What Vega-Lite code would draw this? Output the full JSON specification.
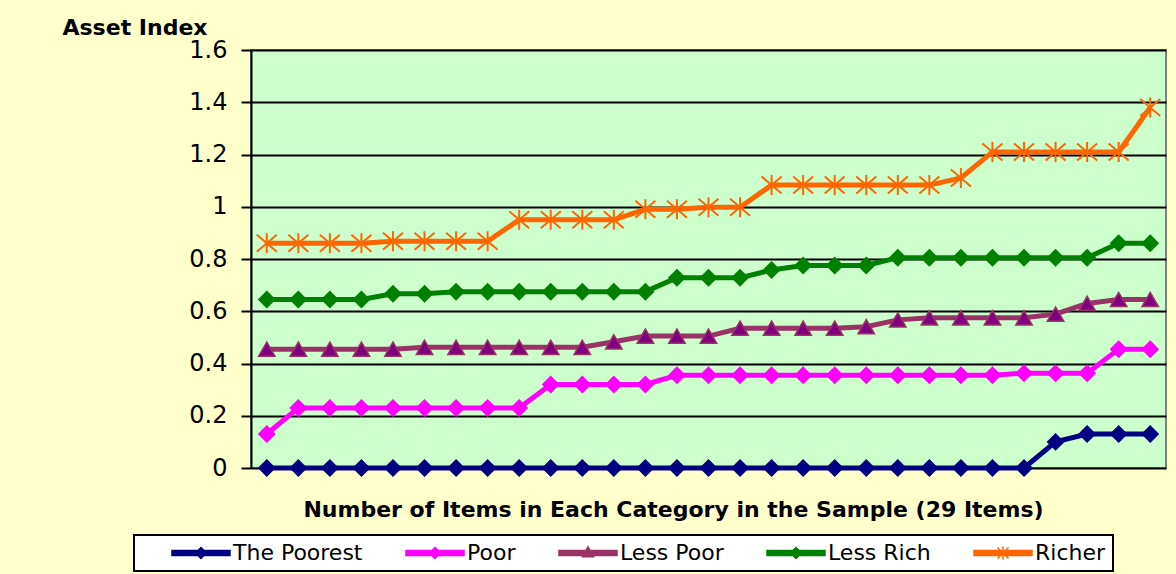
{
  "$schema": "https://vega.github.io/schema/vega-lite/v6.json",
  "width": 915,
  "height": 418,
  "autosize": {"type": "none"},
  "padding": {"left": 251, "top": 50, "right": 10, "bottom": 106},
  "background": "#FFFFCC",
  "config": {
    "font": "DejaVu Sans",
    "view": {"fill": "#CCFFCC", "stroke": "#808080", "strokeWidth": 2}
  },
  "data": {
    "values": [
      {"item": 1, "The Poorest": 0, "Poor": 0.13, "Less Poor": 0.455, "Less Rich": 0.645, "Richer": 0.86},
      {"item": 2, "The Poorest": 0, "Poor": 0.23, "Less Poor": 0.455, "Less Rich": 0.645, "Richer": 0.86},
      {"item": 3, "The Poorest": 0, "Poor": 0.23, "Less Poor": 0.455, "Less Rich": 0.645, "Richer": 0.86},
      {"item": 4, "The Poorest": 0, "Poor": 0.23, "Less Poor": 0.455, "Less Rich": 0.645, "Richer": 0.86},
      {"item": 5, "The Poorest": 0, "Poor": 0.23, "Less Poor": 0.455, "Less Rich": 0.667, "Richer": 0.868},
      {"item": 6, "The Poorest": 0, "Poor": 0.23, "Less Poor": 0.462, "Less Rich": 0.667, "Richer": 0.868},
      {"item": 7, "The Poorest": 0, "Poor": 0.23, "Less Poor": 0.462, "Less Rich": 0.675, "Richer": 0.868},
      {"item": 8, "The Poorest": 0, "Poor": 0.23, "Less Poor": 0.462, "Less Rich": 0.675, "Richer": 0.868},
      {"item": 9, "The Poorest": 0, "Poor": 0.23, "Less Poor": 0.462, "Less Rich": 0.675, "Richer": 0.95},
      {"item": 10, "The Poorest": 0, "Poor": 0.32, "Less Poor": 0.462, "Less Rich": 0.675, "Richer": 0.95},
      {"item": 11, "The Poorest": 0, "Poor": 0.32, "Less Poor": 0.462, "Less Rich": 0.675, "Richer": 0.95},
      {"item": 12, "The Poorest": 0, "Poor": 0.32, "Less Poor": 0.483, "Less Rich": 0.675, "Richer": 0.95},
      {"item": 13, "The Poorest": 0, "Poor": 0.32, "Less Poor": 0.505, "Less Rich": 0.675, "Richer": 0.99},
      {"item": 14, "The Poorest": 0, "Poor": 0.355, "Less Poor": 0.505, "Less Rich": 0.728, "Richer": 0.99},
      {"item": 15, "The Poorest": 0, "Poor": 0.355, "Less Poor": 0.505, "Less Rich": 0.728, "Richer": 0.998},
      {"item": 16, "The Poorest": 0, "Poor": 0.355, "Less Poor": 0.535, "Less Rich": 0.728, "Richer": 0.998},
      {"item": 17, "The Poorest": 0, "Poor": 0.355, "Less Poor": 0.535, "Less Rich": 0.758, "Richer": 1.083},
      {"item": 18, "The Poorest": 0, "Poor": 0.355, "Less Poor": 0.535, "Less Rich": 0.775, "Richer": 1.083},
      {"item": 19, "The Poorest": 0, "Poor": 0.355, "Less Poor": 0.535, "Less Rich": 0.775, "Richer": 1.083},
      {"item": 20, "The Poorest": 0, "Poor": 0.355, "Less Poor": 0.541, "Less Rich": 0.775, "Richer": 1.083},
      {"item": 21, "The Poorest": 0, "Poor": 0.355, "Less Poor": 0.567, "Less Rich": 0.805, "Richer": 1.083},
      {"item": 22, "The Poorest": 0, "Poor": 0.355, "Less Poor": 0.575, "Less Rich": 0.805, "Richer": 1.083},
      {"item": 23, "The Poorest": 0, "Poor": 0.355, "Less Poor": 0.575, "Less Rich": 0.805, "Richer": 1.11},
      {"item": 24, "The Poorest": 0, "Poor": 0.355, "Less Poor": 0.575, "Less Rich": 0.805, "Richer": 1.21},
      {"item": 25, "The Poorest": 0, "Poor": 0.363, "Less Poor": 0.575, "Less Rich": 0.805, "Richer": 1.21},
      {"item": 26, "The Poorest": 0.1, "Poor": 0.363, "Less Poor": 0.589, "Less Rich": 0.805, "Richer": 1.21},
      {"item": 27, "The Poorest": 0.13, "Poor": 0.363, "Less Poor": 0.63, "Less Rich": 0.805, "Richer": 1.21},
      {"item": 28, "The Poorest": 0.13, "Poor": 0.455, "Less Poor": 0.645, "Less Rich": 0.86, "Richer": 1.21},
      {"item": 29, "The Poorest": 0.13, "Poor": 0.455, "Less Poor": 0.645, "Less Rich": 0.86, "Richer": 1.38}
    ]
  },
  "transform": [
    {"fold": ["The Poorest", "Poor", "Less Poor", "Less Rich", "Richer"], "as": ["series", "value"]}
  ],
  "encoding": {
    "x": {
      "field": "item",
      "type": "ordinal",
      "scale": {"type": "point", "padding": 0.5},
      "axis": {
        "labels": false,
        "ticks": false,
        "domain": false,
        "grid": false,
        "title": "Number of Items in Each Category in the Sample (29 Items)",
        "titleFont": "DejaVu Sans",
        "titleFontSize": 22,
        "titleFontWeight": "bold",
        "titleColor": "black",
        "titleX": 422,
        "titleY": 48,
        "titleAlign": "center",
        "titleBaseline": "alphabetic"
      }
    },
    "y": {
      "field": "value",
      "type": "quantitative",
      "scale": {"domain": [0, 1.6], "nice": false, "zero": true},
      "axis": {
        "values": [0, 0.2, 0.4, 0.6, 0.8, 1, 1.2, 1.4, 1.6],
        "format": "~g",
        "labelFont": "DejaVu Sans",
        "labelFontSize": 24,
        "labelColor": "black",
        "labelPadding": 14,
        "tickSize": 10,
        "tickColor": "black",
        "tickWidth": 2,
        "domainColor": "black",
        "domainWidth": 2,
        "grid": true,
        "gridColor": "black",
        "gridWidth": 1.8,
        "gridOpacity": 1,
        "title": "Asset Index",
        "titleFont": "DejaVu Sans",
        "titleFontSize": 22,
        "titleFontWeight": "bold",
        "titleColor": "black",
        "titleAngle": 0,
        "titleX": -189,
        "titleY": -16,
        "titleAlign": "left",
        "titleBaseline": "alphabetic"
      }
    }
  },
  "layer": [
    {
      "mark": {"type": "line", "strokeWidth": 5},
      "encoding": {
        "color": {
          "field": "series",
          "type": "nominal",
          "scale": {
            "domain": ["The Poorest", "Poor", "Less Poor", "Less Rich", "Richer"],
            "range": ["#000080", "#FF00FF", "#993366", "#008000", "#FF6600"]
          },
          "legend": {
            "title": " ",
            "titleOrient": "left",
            "titleFontSize": 1,
            "titlePadding": 30,
            "orient": "none",
            "legendX": -117,
            "legendY": 485,
            "direction": "horizontal",
            "columns": 5,
            "columnPadding": 40,
            "padding": 7,
            "symbolOffset": 19,
            "fillColor": "white",
            "strokeColor": "black",
            "symbolSize": 400,
            "labelFont": "DejaVu Sans",
            "labelFontSize": 22,
            "labelColor": "black",
            "labelOffset": 21,
            "encode": {
              "legend": {"update": {"strokeWidth": {"value": 2}}},
              "symbols": {
                "update": {
                  "shape": {"signal": "datum.value === 'Less Poor' ? 'M-2.9,-0.24L2.9,-0.24L2.9,0.24L-2.9,0.24ZM0,-0.62L0.55,0.38L-0.55,0.38Z' : datum.value === 'Richer' ? 'M-2.9,-0.24L2.9,-0.24L2.9,0.24L-2.9,0.24ZM0,-0.65L0,0.65M-0.55,-0.55L0.55,0.55M-0.55,0.55L0.55,-0.55' : 'M-2.9,-0.24L2.9,-0.24L2.9,0.24L-2.9,0.24ZM0,-0.55L0.55,0L0,0.55L-0.55,0Z'"},
                  "fill": {"scale": "color", "field": "value"},
                  "stroke": {"signal": "datum.value === 'Less Poor' ? '#800080' : scale('color', datum.value)"},
                  "strokeWidth": {"value": 1.5},
                  "fillOpacity": {"value": 1},
                  "opacity": {"value": 1}
                }
              }
            }
          }
        }
      }
    },
    {
      "transform": [{"filter": {"field": "series", "oneOf": ["The Poorest", "Poor", "Less Rich"]}}],
      "mark": {"type": "point", "shape": "diamond", "filled": true, "opacity": 1, "size": 230, "strokeWidth": 2},
      "encoding": {
        "fill": {
          "field": "series",
          "type": "nominal",
          "scale": {
            "domain": ["The Poorest", "Poor", "Less Rich"],
            "range": ["#000080", "#FF00FF", "#008000"]
          },
          "legend": null
        },
        "stroke": {
          "field": "series",
          "type": "nominal",
          "scale": {
            "domain": ["The Poorest", "Poor", "Less Rich"],
            "range": ["#000080", "#FF00FF", "#008000"]
          },
          "legend": null
        }
      }
    },
    {
      "transform": [{"filter": {"field": "series", "equal": "Less Poor"}}],
      "mark": {"type": "point", "shape": "triangle-up", "filled": true, "opacity": 1, "size": 270, "fill": "#800080", "stroke": "#993366", "strokeWidth": 1.5}
    },
    {
      "transform": [{"filter": {"field": "series", "equal": "Richer"}}],
      "mark": {"type": "point", "shape": "M0,-1L0,1M-1,-0.85L1,0.85M-1,0.85L1,-0.85", "filled": false, "opacity": 1, "size": 400, "stroke": "#FF6600", "strokeWidth": 2}
    }
  ]
}
